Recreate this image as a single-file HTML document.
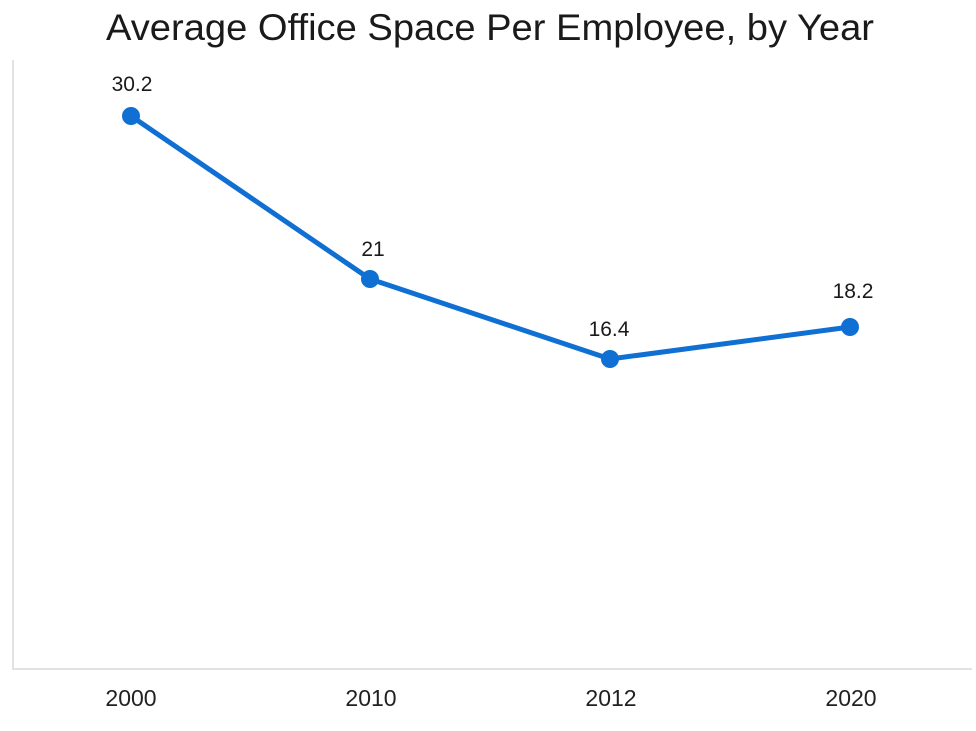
<!DOCTYPE html>
<html><head><meta charset="utf-8"><style>
html,body{margin:0;padding:0;background:#fff;}
</style></head><body>
<svg width="976" height="726" xmlns="http://www.w3.org/2000/svg">
<rect width="976" height="726" fill="#fff"/>
<text x="490" y="40" text-anchor="middle" font-family="Liberation Sans, sans-serif" font-size="37" fill="#1a1a1a" textLength="768" lengthAdjust="spacingAndGlyphs">Average Office Space Per Employee, by Year</text>
<line x1="13" y1="60" x2="13" y2="669" stroke="#e2e2e2" stroke-width="2"/>
<line x1="12" y1="669" x2="972" y2="669" stroke="#e2e2e2" stroke-width="2"/>
<polyline points="131,116 370,279 610,359 850,327" fill="none" stroke="#0f6fd3" stroke-width="5" stroke-linejoin="round"/>
<g fill="#0f6fd3">
<circle cx="131" cy="116" r="9"/><circle cx="370" cy="279" r="9"/><circle cx="610" cy="359" r="9"/><circle cx="850" cy="327" r="9"/>
</g>
<g font-family="Liberation Sans, sans-serif" font-size="21" fill="#1a1a1a" text-anchor="middle">
<text x="132" y="91">30.2</text>
<text x="373" y="256">21</text>
<text x="609" y="336">16.4</text>
<text x="853" y="298">18.2</text>
</g>
<g font-family="Liberation Sans, sans-serif" font-size="23" fill="#222" text-anchor="middle">
<text x="131" y="706">2000</text>
<text x="371" y="706">2010</text>
<text x="611" y="706">2012</text>
<text x="851" y="706">2020</text>
</g>
</svg>
</body></html>
